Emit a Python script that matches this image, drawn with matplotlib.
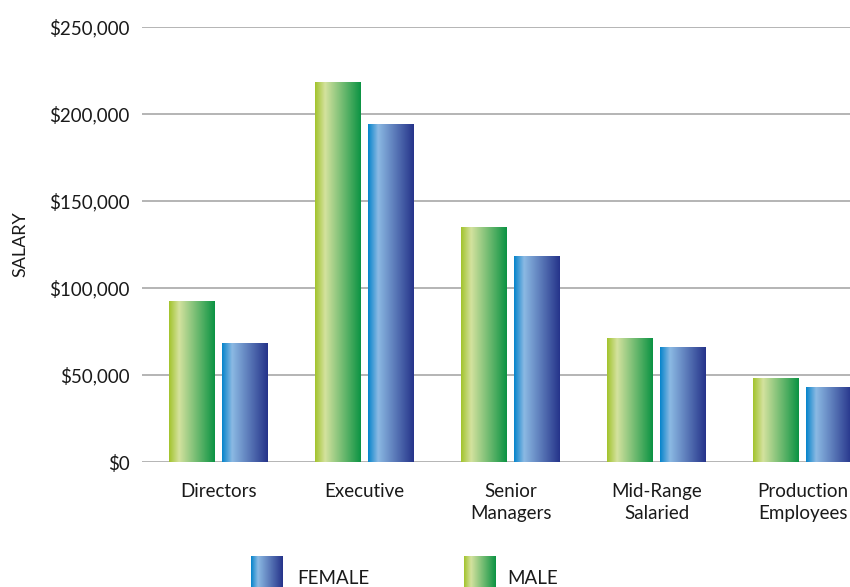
import numpy as np
import matplotlib.pyplot as plt
from matplotlib.colors import LinearSegmentedColormap
from matplotlib.ticker import FuncFormatter

plt.rcParams['font.family'] = ['Lato', 'DejaVu Sans']

categories = ['Directors', 'Executive', 'Senior\nManagers', 'Mid-Range\nSalaried', 'Production\nEmployees']
male = [92000, 218000, 135000, 71000, 48000]
female = [68000, 194000, 118000, 66000, 43000]

# horizontal shading for each series
green = LinearSegmentedColormap.from_list('g', [(0, '#a2c32c'), (0.22, '#d4e29e'), (1, '#0b9343')])
blue = LinearSegmentedColormap.from_list('b', [(0, '#0584cb'), (0.22, '#8bb9e3'), (1, '#25338a')])
grad = np.linspace(0, 1, 256).reshape(1, -1)

fig = plt.figure(figsize=(8.5, 5.87), dpi=100)
ax = fig.add_axes([142 / 850, 1 - 462 / 587, 1 - 142 / 850, 435 / 587])

x = np.arange(len(categories))
w = 0.315
off = 0.1815
for bars, cmap in [(ax.bar(x - off, male, w, color='none'), green),
                   (ax.bar(x + off, female, w, color='none'), blue)]:
    for b in bars:
        ax.imshow(grad, cmap=cmap, aspect='auto', zorder=3,
                  extent=[b.get_x(), b.get_x() + b.get_width(), 0, b.get_height()])

ax.set_xlim(-0.524, 4.325)
ax.set_ylim(0, 250000)
ax.set_yticks(np.arange(0, 250001, 50000))
ax.yaxis.set_major_formatter(FuncFormatter(lambda v, p: '${:,.0f}'.format(v)))
ax.set_xticks(x)
ax.set_xticklabels(categories, linespacing=1.35)
ax.tick_params(length=0, labelsize=13.5, colors='#1a1a1a')
ax.tick_params(axis='y', pad=9)
ax.tick_params(axis='x', pad=15)
ax.grid(axis='y', color='#b4b4b4', linewidth=1.4, zorder=0)
ax.set_axisbelow(True)
for s in ax.spines.values():
    s.set_visible(False)

fig.text(20 / 850, 1 - 244 / 587, 'SALARY', rotation=90, ha='center', va='center',
         fontsize=13, color='#1a1a1a')

# legend swatches along the bottom edge
for left, cmap, label, tx in [(251, blue, 'FEMALE', 297), (464, green, 'MALE', 507)]:
    sw = fig.add_axes([left / 850, 0, 32 / 850, 31 / 587])
    sw.imshow(grad, cmap=cmap, aspect='auto')
    sw.axis('off')
    fig.text(tx / 850, 1 - 579 / 587, label, ha='left', va='center', fontsize=13.5, color='#1a1a1a')

fig.savefig('out.png', dpi=100)
